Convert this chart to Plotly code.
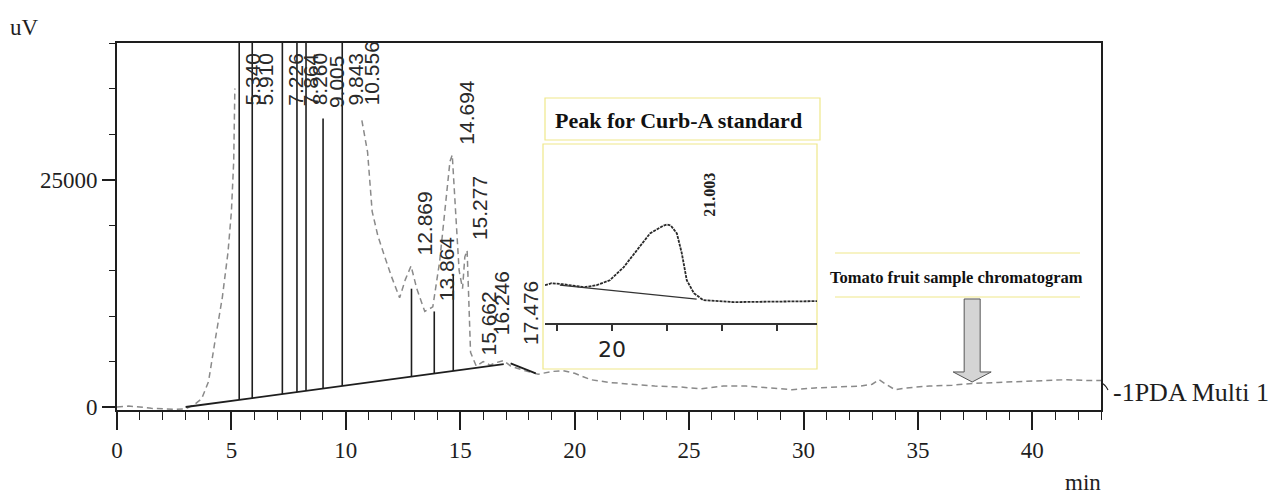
import numpy as np
import plotly.graph_objects as go

# ---- Tomato fruit sample, PDA detector signal (uV vs. min); None = off-scale stretch
sig_min = [0.0, 0.5, 1.0, 1.5, 2.0, 2.5, 3.0, 3.4, 3.7, 4.0, 4.3, 4.6, 4.85, 5.0, 5.1, 5.15,
           None,
           10.7, 10.95, 11.15, 11.4, 11.7, 12.0, 12.35, 12.6, 12.85, 13.1, 13.45, 13.8, 14.1,
           14.35, 14.55, 14.65, 14.8, 14.95, 15.1, 15.2, 15.3, 15.45, 15.7, 16.0, 16.3, 16.6,
           16.9, 17.2, 17.8, 18.4, 19.0, 19.5, 20.0, 20.7, 21.5, 22.5, 23.5, 24.6, 25.5, 26.5,
           27.5, 28.5, 29.5, 30.5, 31.5, 32.5, 33.0, 33.3, 33.6, 34.0, 34.5, 35.5, 36.5, 37.5,
           38.5, 39.5, 40.5, 41.5, 42.5, 43.0]
sig_uv = [0, 100, 0, -150, -200, -250, -200, 300, 900, 2800, 7500, 12000, 17000, 21500, 27000, 35000,
          None,
          31500, 28000, 21500, 18800, 16500, 14300, 12000, 14000, 15500, 13000, 10500, 11000, 16000,
          22500, 27000, 27700, 21000, 15000, 13000, 16500, 17200, 6000, 4500, 5000, 4600, 4900,
          5100, 4500, 4000, 3600, 3900, 4000, 3700, 3000, 2700, 2500, 2300, 2200, 2000, 2300,
          2300, 2100, 1900, 2100, 2200, 2300, 2500, 3000, 2500, 1900, 2100, 2300, 2400, 2600,
          2700, 2800, 2900, 3000, 2900, 2900]

# ---- integration baseline segments
base_min = [3.0, 16.9, None, 17.2, 18.3]
base_uv = [0, 4700, None, 4800, 3700]

# ---- integrated peaks: drop lines (top value in uV; > 40000 means off-scale)
drop_min = [5.340, 5.910, 7.226, 7.864, 8.260, 9.005, 9.843, 12.869, 13.864, 14.694]
drop_top_uv = [52000, 52000, 52000, 52000, 52000, 31700, 52000, 13000, 10500, 14500]

# ---- retention-time labels and peak apex heights
peak_labels = ["5.340", "5.910", "7.226", "7.864", "8.260", "9.005", "9.843", "10.556",
               "12.869", "13.864", "14.694", "15.277", "15.662", "16.246", "17.476"]
peak_apex_uv = [52000, 52000, 52000, 52000, 52000, 31700, 52000, 32000,
                15600, 10500, 27700, 17200, 4600, 5000, 4500]

# ---- Curb-A standard (inset), signal in mV vs. min
std_min = [18.78, 18.9, 19.1, 19.5, 19.72, 19.96, 20.21, 20.45, 20.69, 20.94, 21.003,
           21.07, 21.18, 21.27, 21.36, 21.49, 21.66, 22.21, 23.73]
std_mv = [3.8, 4.0, 3.9, 3.6, 3.8, 4.3, 5.6, 7.3, 9.0, 9.8, 9.9,
          9.8, 9.0, 7.0, 4.3, 3.0, 2.3, 2.1, 2.2]
std_base_min = [19.05, 21.54]
std_base_mv = [3.8, 2.4]
std_peak_label = "21.003"
std_peak_apex = 9.9

# axis ranges of the main chromatogram
X_RANGE = [0, 43]
Y_RANGE = [-330, 40000]

INK = "#1e1e1e"
SERIF = "Liberation Serif"
SANS = "Liberation Sans"
YELLOW = "#efe88a"

fig = go.Figure()

# detector trace
fig.add_trace(go.Scatter(
    x=sig_min, y=sig_uv, mode="lines", connectgaps=False,
    line=dict(color="#8a8a8a", width=1.5, dash="6px,4px"),
    hoverinfo="skip", showlegend=False))

# baseline
fig.add_trace(go.Scatter(
    x=base_min, y=base_uv, mode="lines", connectgaps=False,
    line=dict(color=INK, width=1.8), hoverinfo="skip", showlegend=False))

# drop lines from the baseline up to each peak top
seg_base_t = [3.0, 16.9]
seg_base_v = [0, 4700]
dx, dy = [], []
for t, top in zip(drop_min, drop_top_uv):
    b = float(np.interp(t, seg_base_t, seg_base_v))
    dx += [t, t, None]
    dy += [b, top, None]
fig.add_trace(go.Scatter(
    x=dx, y=dy, mode="lines", line=dict(color=INK, width=1.6),
    hoverinfo="skip", showlegend=False))

# Curb-A standard inset
fig.add_trace(go.Scatter(
    x=std_min, y=std_mv, mode="lines", xaxis="x2", yaxis="y2",
    line=dict(color="#2a2a2a", width=1.8, dash="3px,1px"),
    hoverinfo="skip", showlegend=False))
fig.add_trace(go.Scatter(
    x=std_base_min, y=std_base_mv, mode="lines", xaxis="x2", yaxis="y2",
    line=dict(color="#333333", width=1.2),
    hoverinfo="skip", showlegend=False))

# rotated retention-time labels
label_nudge = {"16.246": 16, "17.476": 11}
annotations = []
for lab, apex in zip(peak_labels, peak_apex_uv):
    annotations.append(dict(
        x=float(lab), y=min(apex, 32000), xref="x", yref="y",
        text=lab, textangle=-90, showarrow=False,
        xanchor="center", yanchor="bottom",
        xshift=13, yshift=8 + label_nudge.get(lab, 0),
        font=dict(family=SANS, size=21, color="#2a2a2a")))

annotations.append(dict(
    x=float(std_peak_label), y=std_peak_apex, xref="x2", yref="y2",
    text="<b>" + std_peak_label + "</b>", textangle=-90, showarrow=False,
    xanchor="center", yanchor="bottom", xshift=42, yshift=6,
    font=dict(family=SERIF, size=16, color="#222222")))

# plot-area geometry in pixels (for paper-referenced decorations)
W, H = 1270, 497
L, R, T, B = 117, 1101, 43, 410


def px(xp):
    return (xp - L) / (R - L)


def py(yp):
    return (B - yp) / (B - T)


annotations += [
    dict(x=px(24), y=py(27), xref="paper", yref="paper", text="uV", showarrow=False,
         xanchor="center", yanchor="middle", font=dict(family=SERIF, size=23, color=INK)),
    dict(x=px(1083), y=py(482), xref="paper", yref="paper", text="min", showarrow=False,
         xanchor="center", yanchor="middle", font=dict(family=SERIF, size=23, color=INK)),
    dict(x=px(1111), y=py(392), xref="paper", yref="paper", text="-1PDA Multi 1",
         showarrow=False, xanchor="left", yanchor="middle",
         font=dict(family=SERIF, size=26, color=INK)),
    dict(x=px(678), y=py(120), xref="paper", yref="paper",
         text="<b>Peak for Curb-A standard</b>", showarrow=False,
         xanchor="center", yanchor="middle", font=dict(family=SERIF, size=22, color="#111111")),
    dict(x=px(956), y=py(277), xref="paper", yref="paper",
         text="<b>Tomato fruit sample chromatogram</b>", showarrow=False,
         xanchor="center", yanchor="middle", font=dict(family=SERIF, size=16.5, color="#111111")),
]

# arrow pointing at the sample trace (data coordinates)
ax_c, ax_hw, ax_hh = 37.37, 0.35, 0.83
y_top, y_neck, y_tip = 11870, 3850, 2750
arrow_path = (f"M {ax_c-ax_hw},{y_top} L {ax_c+ax_hw},{y_top} L {ax_c+ax_hw},{y_neck} "
              f"L {ax_c+ax_hh},{y_neck} L {ax_c},{y_tip} L {ax_c-ax_hh},{y_neck} "
              f"L {ax_c-ax_hw},{y_neck} Z")

shapes = [
    # inset frame and title frame
    dict(type="rect", xref="paper", yref="paper", x0=px(543), x1=px(817), y0=py(369), y1=py(144),
         line=dict(color=YELLOW, width=1.2), fillcolor="rgba(255,255,255,0)", layer="below"),
    dict(type="rect", xref="paper", yref="paper", x0=px(545), x1=px(820), y0=py(140), y1=py(98),
         line=dict(color=YELLOW, width=1.2), fillcolor="rgba(255,255,255,0)"),
    # rules around the sample caption
    dict(type="line", xref="paper", yref="paper", x0=px(835), x1=px(1080), y0=py(253), y1=py(253),
         line=dict(color=YELLOW, width=1.2)),
    dict(type="line", xref="paper", yref="paper", x0=px(835), x1=px(1080), y0=py(297), y1=py(297),
         line=dict(color=YELLOW, width=1.2)),
    # arrow
    dict(type="path", xref="x", yref="y", path=arrow_path,
         fillcolor="#d4d4d4", line=dict(color="#555555", width=1)),
    # leader from the trace end to the channel name
    dict(type="path", xref="paper", yref="paper",
         path=f"M {px(1101)},{py(383)} Q {px(1105)},{py(384)} {px(1108)},{py(390)}",
         line=dict(color=INK, width=1.2)),
]

fig.update_layout(
    width=W, height=H,
    margin=dict(l=L, r=W - R, t=T, b=H - B, pad=0),
    paper_bgcolor="white", plot_bgcolor="rgba(0,0,0,0)",
    showlegend=False,
    annotations=annotations,
    shapes=shapes,
    xaxis=dict(
        range=X_RANGE, tick0=0, dtick=5, ticks="outside", ticklen=18, tickwidth=1.5,
        tickcolor=INK, showline=True, linewidth=2, linecolor=INK, mirror=True,
        showgrid=False, zeroline=False,
        minor=dict(dtick=1, tick0=0, ticks="outside", ticklen=8, tickwidth=1.3, tickcolor=INK),
        tickfont=dict(family=SERIF, size=23, color=INK),
    ),
    yaxis=dict(
        range=Y_RANGE, tick0=0, dtick=25000, ticks="outside", ticklen=13, tickwidth=1.5,
        tickcolor=INK, showline=True, linewidth=2, linecolor=INK, mirror=True,
        showgrid=False, zeroline=False, tickformat="d",
        minor=dict(dtick=5000, tick0=0, ticks="outside", ticklen=6, tickwidth=1.3, tickcolor=INK),
        tickfont=dict(family=SERIF, size=23, color=INK),
    ),
    xaxis2=dict(
        domain=[px(545), px(817)], anchor="y2", range=[18.78, 23.73],
        tickvals=[19, 20, 21, 22, 23], ticktext=["", "20", "", "", ""],
        ticks="outside", ticklen=6, tickwidth=1.5, tickcolor="#333333",
        showline=True, linewidth=1.5, linecolor="#333333",
        showgrid=False, zeroline=False,
        tickfont=dict(family="DejaVu Sans", size=22, color="#222222"),
    ),
    yaxis2=dict(
        domain=[py(323), py(144)], anchor="x2", range=[0, 18],
        visible=False, showgrid=False, zeroline=False,
    ),
)

fig.write_html("out.html")
